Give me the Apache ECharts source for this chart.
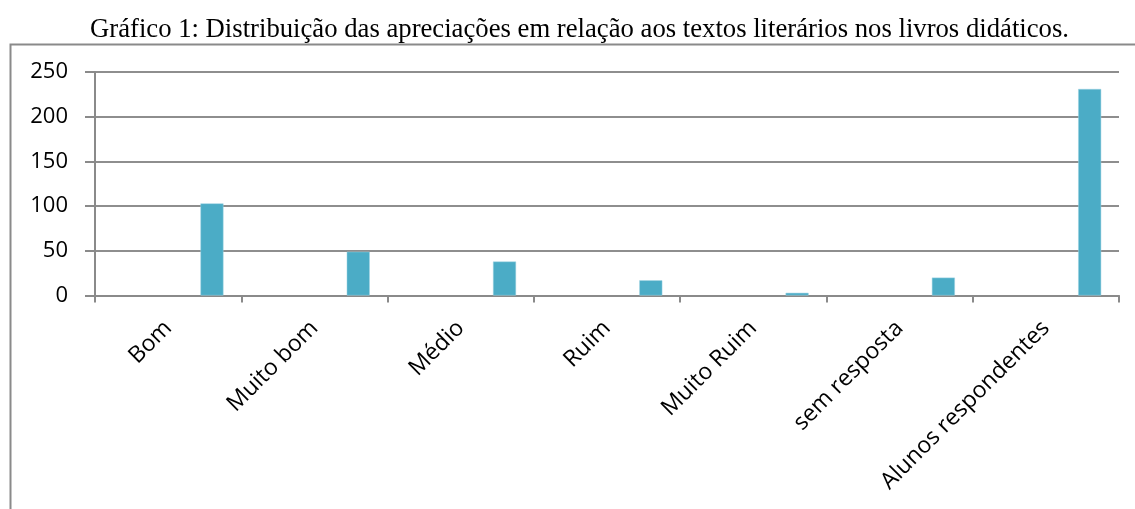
<!DOCTYPE html>
<html>
<head>
<meta charset="utf-8">
<script src="https://cdn.jsdelivr.net/npm/echarts@6/dist/echarts.min.js"></script>
<style>
html,body{margin:0;padding:0;background:#fff;}
#chart{width:1135px;height:509px;}
</style>
</head>
<body>
<div id="chart"></div>
<script>
var titleText = 'Gráfico 1: Distribuição das apreciações em relação aos textos literários nos livros didáticos.';
var categories = ['Bom', 'Muito bom', 'Médio', 'Ruim', 'Muito Ruim', 'sem resposta', 'Alunos respondentes'];
var serieA = [0, 0, 0, 0, 0, 0, 0];
var serieB = [103, 49, 38, 17, 3, 20, 231];
var yTicks = [0, 50, 100, 150, 200, 250];

var chart = echarts.init(document.getElementById('chart'), null, {renderer: 'canvas'});
chart.setOption({
  animation: false,
  backgroundColor: '#fff',
  title: {
    text: titleText,
    left: 85,
    top: 11,
    textStyle: {fontFamily: 'Liberation Serif', fontSize: 26.7, fontWeight: 'normal', color: '#000'}
  },
  graphic: [{
    type: 'rect',
    shape: {x: 10.5, y: 44.5, width: 1300, height: 600},
    style: {fill: 'none', stroke: '#8a8a8a', lineWidth: 2},
    silent: true
  }],
  grid: {left: 95, right: 16, top: 72, bottom: 213.5, containLabel: false},
  xAxis: {
    type: 'category',
    data: categories,
    boundaryGap: true,
    axisLine: {lineStyle: {color: '#8a8a8a', width: 2}},
    axisTick: {show: true, length: 7, lineStyle: {color: '#8a8a8a', width: 2}},
    axisLabel: {rotate: 45, margin: 29, interval: 0, fontFamily: 'Open Sans', fontSize: 23, color: '#000'}
  },
  yAxis: {
    type: 'value',
    min: 0, max: 250, interval: 50,
    axisLine: {show: true, lineStyle: {color: '#8a8a8a', width: 2}},
    axisTick: {show: true, length: 10, lineStyle: {color: '#8a8a8a', width: 2}},
    splitLine: {show: true, lineStyle: {color: '#8e8e8e', width: 2}},
    axisLabel: {margin: 27, fontFamily: 'Open Sans', fontSize: 22, color: '#000',
      formatter: function (v) { return yTicks.indexOf(v) >= 0 ? String(v) : ''; }}
  },
  series: [
    {type: 'bar', name: 'A', data: serieA, barWidth: 23, barGap: '281%', itemStyle: {color: '#d0d0d0'}},
    {type: 'bar', name: 'B', data: serieB, barWidth: 23, barGap: '281%',
     itemStyle: {color: '#4bacc6', borderColor: '#9fd3e2', borderWidth: 0.5}}
  ]
});
</script>
</body>
</html>
